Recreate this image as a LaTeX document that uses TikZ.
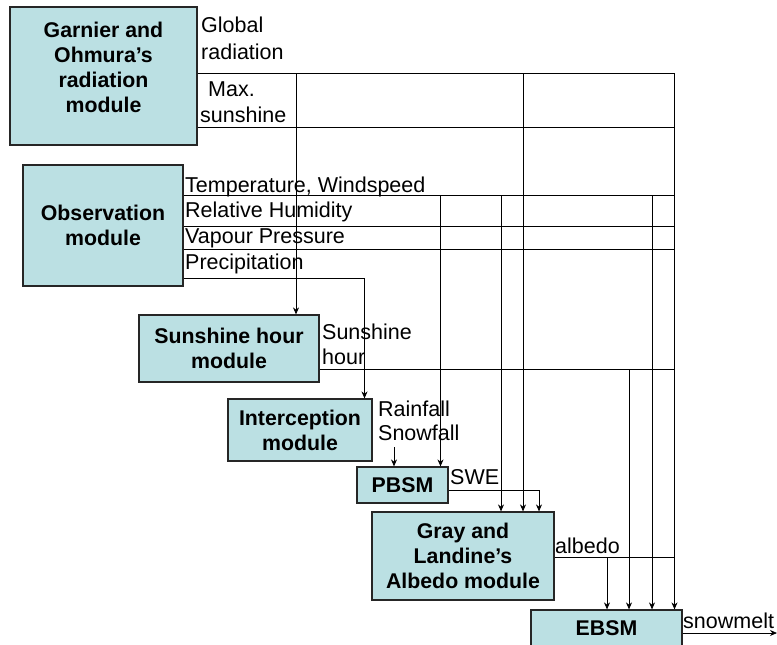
\documentclass[tikz,border=0pt]{standalone}
\usepackage{fontspec}
\setmainfont{Liberation Sans}
\usetikzlibrary{arrows.meta}
\definecolor{boxfill}{RGB}{187,224,227}
\begin{document}
\begin{tikzpicture}[x=1pt,y=-1pt,
  modbox/.style={draw=black!85, line width=1.2pt, fill=boxfill, align=center, font=\fontsize{21.3}{25}\selectfont\bfseries, inner sep=0pt},
  boxtext/.style={align=center, font=\fontsize{21.3}{25}\selectfont\bfseries, inner sep=0pt},
  lbl/.style={anchor=base west, inner sep=0pt, font=\fontsize{21.5}{25}\selectfont},
  wire/.style={draw=black, line width=0.8pt},
  arr/.style={wire, -{Stealth[length=7pt,width=6pt]}}]
\useasboundingbox (0,0) rectangle (777,645);

% modules
\node[modbox, minimum width=187pt, minimum height=138pt] (garnier) at (103.5,76) {};
\node[boxtext] (garniertext) at (103.5,67.5) {Garnier and\\Ohmura's\\radiation\\module};
\node[modbox, minimum width=160pt, minimum height=121pt] (obs) at (103,225.5) {Observation\\module};
\node[modbox, minimum width=180pt, minimum height=67pt] (sun) at (229,348.5) {Sunshine hour\\module};
\node[modbox, minimum width=144pt, minimum height=62pt] (icpt) at (300,430) {Interception\\module};
\node[modbox, minimum width=91pt, minimum height=36pt] (pbsm) at (402.5,485) {PBSM};
\node[modbox, minimum width=182pt, minimum height=88pt] (gray) at (463,556) {Gray and\\Landine's\\Albedo module};
\node[modbox, minimum width=151pt, minimum height=37pt] (ebsm) at (606.5,628.5) {EBSM};

% labels
\node[lbl] (lgr1) at (201,32) {Global};
\node[lbl] (lgr2) at (201,59) {radiation};
\node[lbl] (lms1) at (208,96.5) {Max.};
\node[lbl] (lms2) at (200,122.5) {sunshine};
\node[lbl] (ltw) at (185,192) {Temperature, Windspeed};
\node[lbl] (lrh) at (185,217) {Relative Humidity};
\node[lbl] (lvp) at (185,243) {Vapour Pressure};
\node[lbl] (lpc) at (185,269) {Precipitation};
\node[lbl] (lsh1) at (322,339) {Sunshine};
\node[lbl] (lsh2) at (322,364) {hour};
\node[lbl] (lrf) at (378,416) {Rainfall};
\node[lbl] (lsf) at (378,440) {Snowfall};
\node[lbl] (lswe) at (450,484) {SWE};
\node[lbl] (lalb) at (555,553) {albedo};
\node[lbl] (lsm) at (683,628) {snowmelt};

% junction coordinates
\coordinate (busR) at (674.5,73.5);
\coordinate (msR) at (674.5,127);
\coordinate (v1) at (296,73.5);
\coordinate (v2) at (523,73.5);
\coordinate (tR) at (674.5,195.5);
\coordinate (rhR) at (674.5,226);
\coordinate (vpR) at (674.5,249);
\coordinate (pc) at (364.5,278);
\coordinate (v3) at (440.5,195.5);
\coordinate (v4) at (501,195.5);
\coordinate (v5) at (652,195.5);
\coordinate (shR) at (674.5,369);
\coordinate (v6) at (629,369);
\coordinate (rs) at (394,447);
\coordinate (swe) at (539,490);
\coordinate (albR) at (674.5,557);
\coordinate (v7) at (607,557);
\coordinate (sm) at (777,633);

% radiation module outputs
\draw[wire] (garnier.east |- busR) -- (busR);
\draw[wire] (garnier.east |- msR) -- (msR);
\draw[arr] (v1) -- (v1 |- sun.north);
\draw[arr] (v2) -- (v2 |- gray.north);
\draw[arr] (busR) -- (busR |- ebsm.north);

% observation outputs
\draw[wire] (obs.east |- tR) -- (tR);
\draw[wire] (obs.east |- rhR) -- (rhR);
\draw[wire] (obs.east |- vpR) -- (vpR);
\draw[arr] (obs.east |- pc) -- (pc) -- (pc |- icpt.north);
\draw[arr] (v3) -- (v3 |- pbsm.north);
\draw[arr] (v4) -- (v4 |- gray.north);
\draw[arr] (v5) -- (v5 |- ebsm.north);

% sunshine hour
\draw[wire] (sun.east |- shR) -- (shR);
\draw[arr] (v6) -- (v6 |- ebsm.north);

% interception to PBSM
\draw[arr] (rs) -- (rs |- pbsm.north);

% SWE
\draw[arr] (pbsm.east |- swe) -- (swe) -- (swe |- gray.north);

% albedo
\draw[wire] (gray.east |- albR) -- (albR);
\draw[arr] (v7) -- (v7 |- ebsm.north);

% snowmelt
\draw[arr] (ebsm.east |- sm) -- (sm);
\end{tikzpicture}
\end{document}
